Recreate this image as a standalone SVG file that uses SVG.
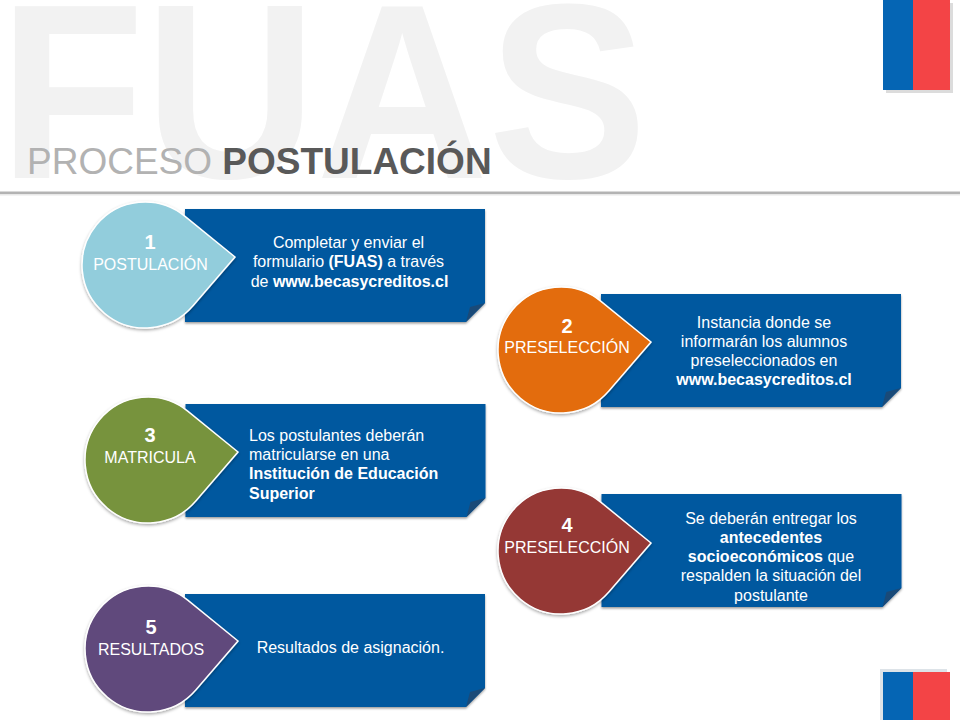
<svg xmlns="http://www.w3.org/2000/svg" width="960" height="720" viewBox="0 0 960 720">
<style>
text{font-family:"Liberation Sans",Arial,sans-serif}
.t{font-size:16px;fill:#fff;text-anchor:middle}
.l{font-size:16px;fill:#fff}
.b{font-weight:700}
.n{font-size:20px;font-weight:700;fill:#fff;text-anchor:middle}
.c{font-size:16px;fill:#fff;text-anchor:middle}
.drop{stroke:#fff;stroke-width:1.5;filter:url(#sh)}
.box{fill:#00589f;filter:url(#bs)}
.fold{fill:#1a4a78}
</style>
<defs>
<filter id="sh" x="-20%" y="-20%" width="140%" height="140%"><feDropShadow dx="0" dy="1.5" stdDeviation="1.5" flood-color="#000" flood-opacity=".35"/></filter>
<filter id="bs" x="-5%" y="-5%" width="110%" height="115%"><feDropShadow dx="0" dy="1.5" stdDeviation="1.2" flood-color="#000" flood-opacity=".4"/></filter>
<path id="tear" d="M39.7,-48.9L90,-8L47.8,41.1A63,63 0 1 1 39.7,-48.9Z"/>
<path id="card" d="M0,0H300V94L281,113H0Z"/>
<path id="crease" d="M300,94L285,98L281,113Z"/>
</defs>
<rect width="960" height="720" fill="#fff"/>
<g id="header">
<text transform="translate(-1,178) scale(.96,1)" font-size="248" font-weight="700" fill="#f2f2f2">FUAS</text>
<text x="27" y="174" font-size="37"><tspan fill="#b2b2b2">PROCESO </tspan><tspan fill="#595959" font-weight="700">POSTULACIÓN</tspan></text>
<rect x="0" y="191.500" width="960" height="2.500" fill="#b3b3b3"/>
<rect x="0" y="194" width="960" height="1.500" fill="#e8e8e8"/>
</g>
<g id="flag-top">
<rect x="886" y="3" width="67" height="90" fill="#dcdcdc"/>
<rect x="883" y="0" width="30" height="90" fill="#0565b4"/>
<rect x="913" y="0" width="37" height="90" fill="#f34446"/>
</g>
<g id="flag-bottom">
<rect x="880" y="669" width="67" height="51" fill="#dde3e8"/>
<rect x="883" y="672" width="30" height="48" fill="#0565b4"/>
<rect x="913" y="672" width="37" height="48" fill="#f34446"/>
</g>
<g id="connectors"></g>
<g id="node-1">
<use href="#card" x="185" y="209" class="box"/><use href="#crease" x="185" y="209" class="fold"/>
<use href="#tear" x="145" y="265" fill="#92cddc" class="drop"/>
<text class="n" x="150" y="249">1</text><text class="c" x="150.500" y="270">POSTULACIÓN</text>
<text class="t" x="348.500" y="248">Completar y enviar el</text>
<text class="t" x="348.500" y="267">formulario <tspan class="b">(FUAS)</tspan> a través</text>
<text class="t" x="349.500" y="286.500">de <tspan class="b">www.becasycreditos.cl</tspan></text>
</g>
<g id="node-2">
<use href="#card" x="601" y="294" class="box"/><use href="#crease" x="601" y="294" class="fold"/>
<use href="#tear" x="561" y="350" fill="#e36c09" class="drop"/>
<text class="n" x="567" y="333">2</text><text class="c" x="567" y="353">PRESELECCIÓN</text>
<text class="t" x="764" y="328">Instancia donde se</text>
<text class="t" x="764" y="347">informarán los alumnos</text>
<text class="t" x="764" y="366">preseleccionados en</text>
<text class="t b" x="764" y="385">www.becasycreditos.cl</text>
</g>
<g id="node-3">
<use href="#card" x="185.500" y="404" class="box"/><use href="#crease" x="185.500" y="404" class="fold"/>
<use href="#tear" x="148" y="460" fill="#77933c" class="drop"/>
<text class="n" x="150" y="442">3</text><text class="c" x="150" y="463">MATRICULA</text>
<text class="l" x="249" y="441">Los postulantes deberán</text>
<text class="l" x="249" y="460">matricularse en una</text>
<text class="l b" x="249" y="479">Institución de Educación</text>
<text class="l b" x="249" y="499">Superior</text>
</g>
<g id="node-4">
<use href="#card" x="601.500" y="494" class="box"/><use href="#crease" x="601.500" y="494" class="fold"/>
<use href="#tear" x="561" y="551" fill="#953735" class="drop"/>
<text class="n" x="567" y="532">4</text><text class="c" x="567" y="553">PRESELECCIÓN</text>
<text class="t" x="771" y="524">Se deberán entregar los</text>
<text class="t b" x="771" y="543">antecedentes</text>
<text class="t" x="771" y="562"><tspan class="b">socioeconómicos</tspan> que</text>
<text class="t" x="771" y="581">respalden la situación del</text>
<text class="t" x="771" y="600.500">postulante</text>
</g>
<g id="node-5">
<use href="#card" x="185" y="594" class="box"/><use href="#crease" x="185" y="594" class="fold"/>
<use href="#tear" x="148" y="649" fill="#604a7b" class="drop"/>
<text class="n" x="151" y="634">5</text><text class="c" x="151" y="655">RESULTADOS</text>
<text class="t" x="350.500" y="653">Resultados de asignación.</text>
</g>
</svg>
